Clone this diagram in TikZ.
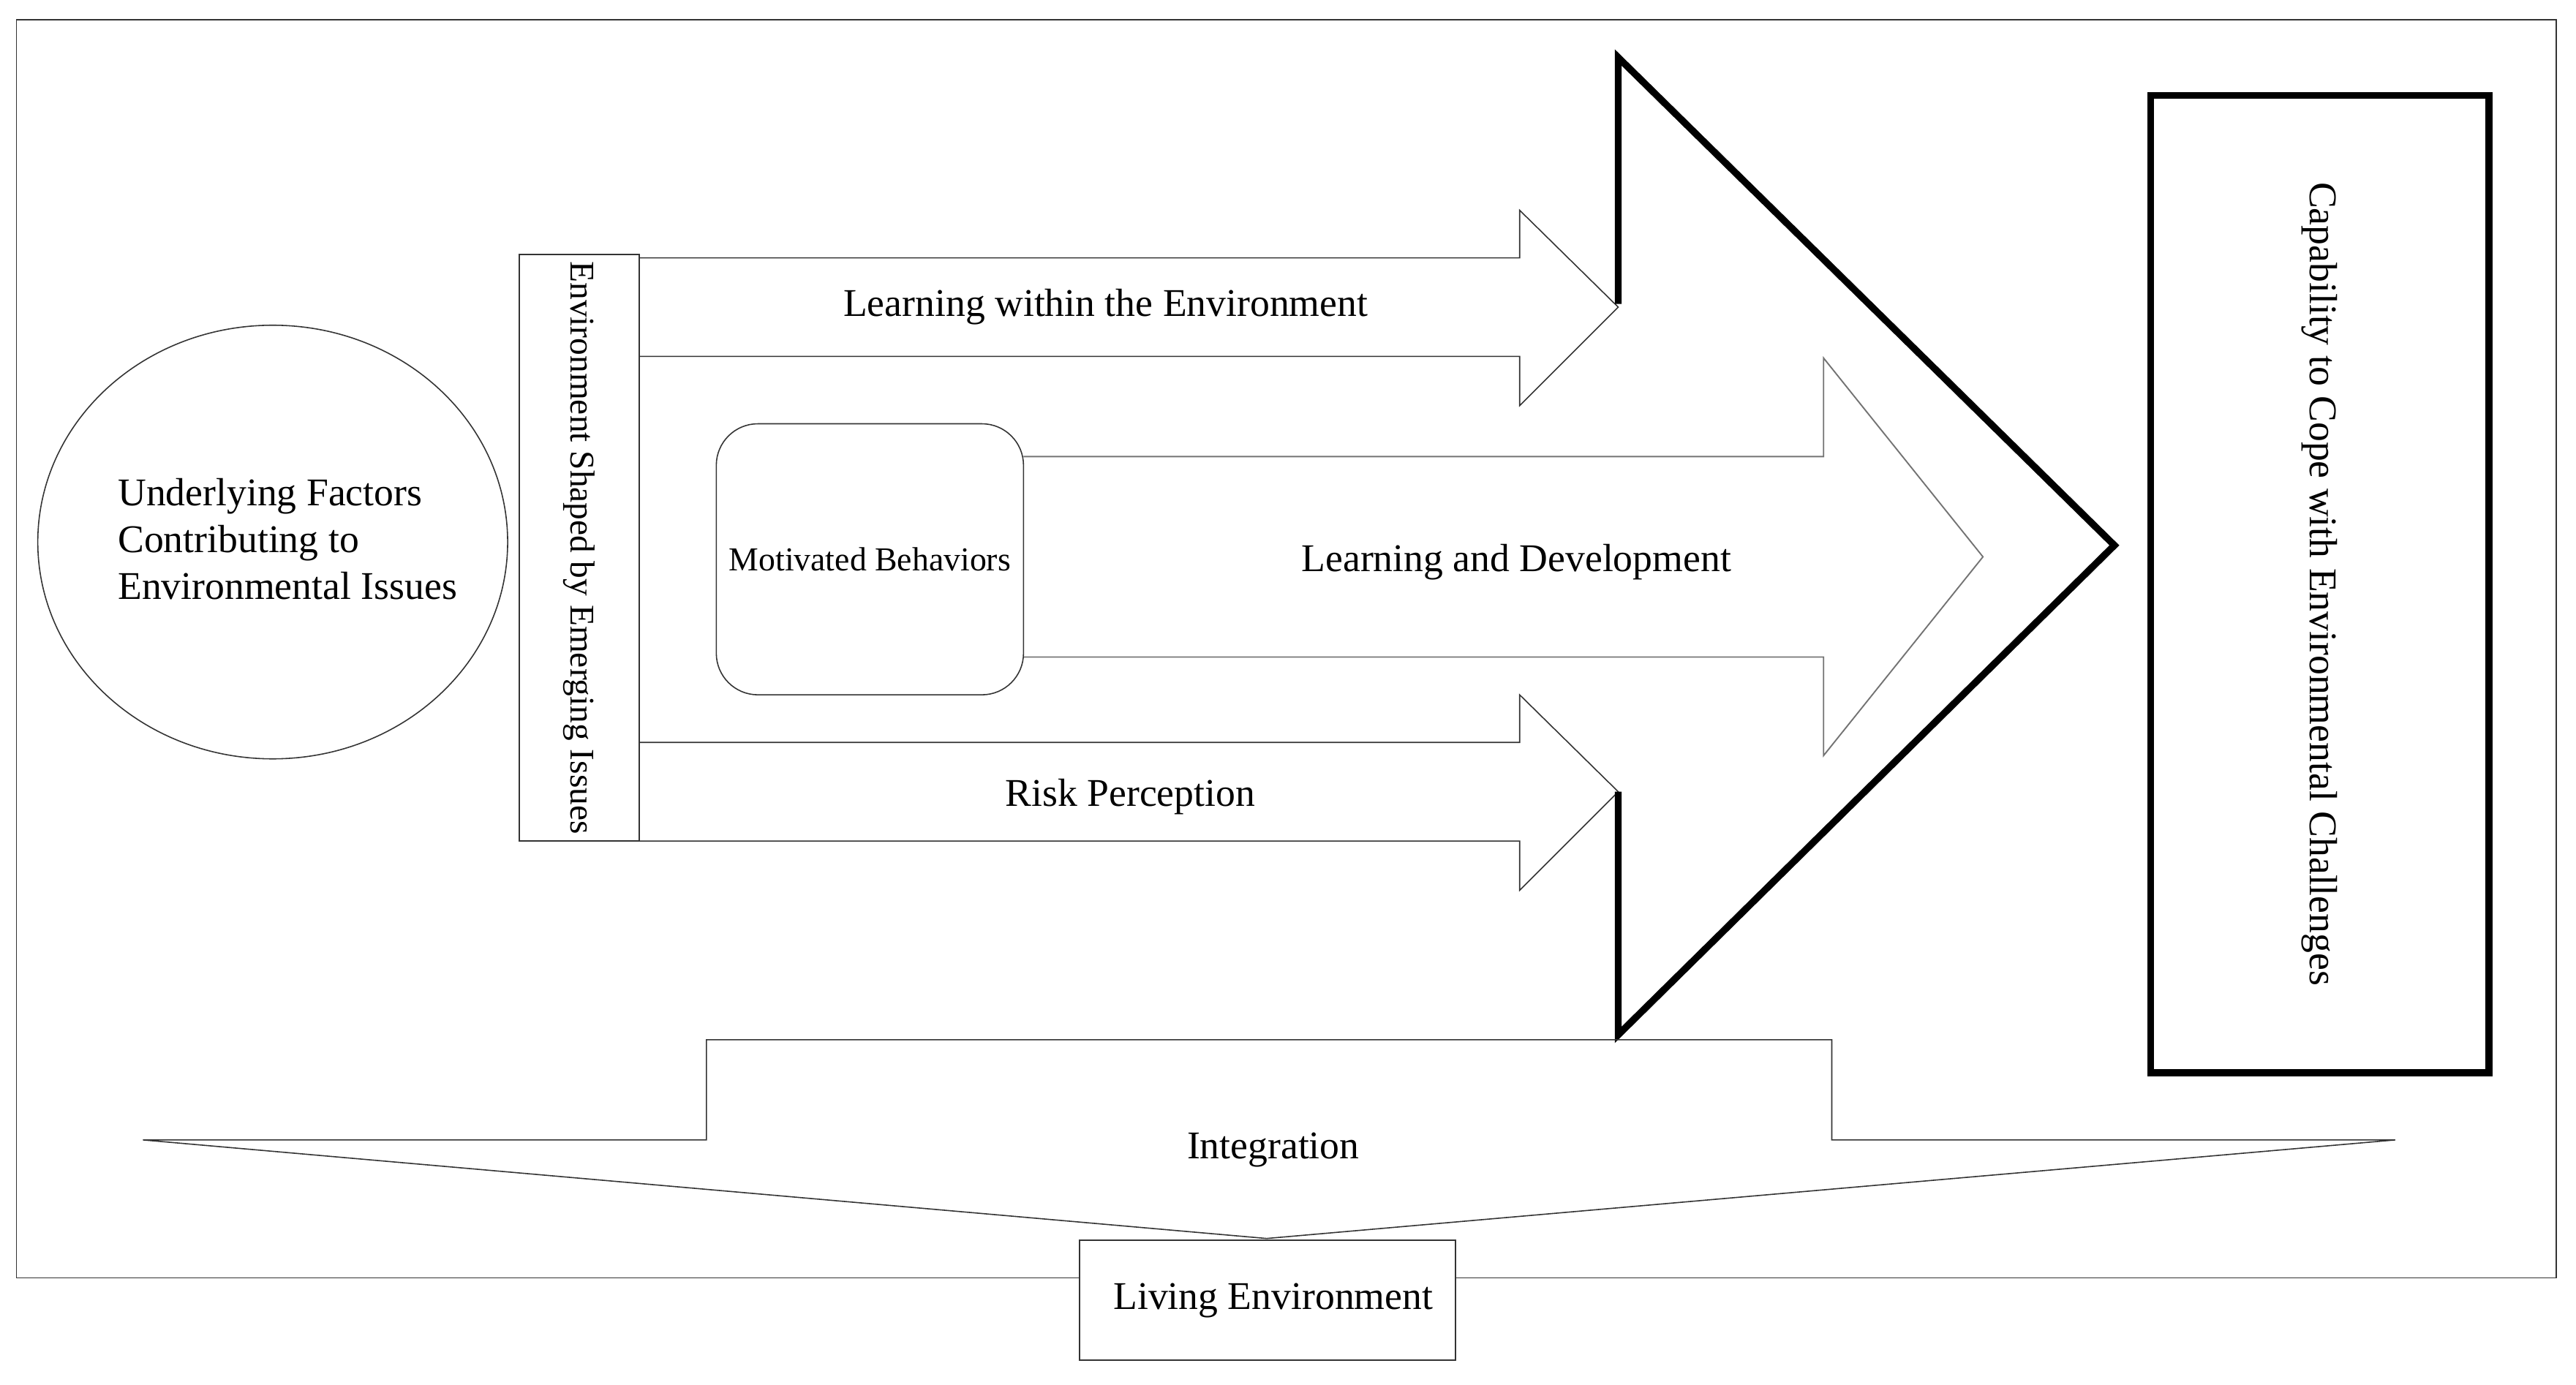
\documentclass[tikz,border=0pt]{standalone}
\usepackage{fontspec}
\setmainfont{Liberation Serif}
\begin{document}
\begin{tikzpicture}[x=0.25mm,y=-0.25mm,
  ln/.style={draw=black!80,line width=0.5pt},
  txt/.style={font=\fontsize{17}{20}\selectfont},
  bold/.style={draw=black,line width=3pt}]
\useasboundingbox (0,0) rectangle (1568,843);
\draw[ln] (10,12) rectangle (1556,778);
\draw[ln] (166,330) ellipse [x radius=143, y radius=132];
\node[align=left,font=\fontsize{17}{20.3}\selectfont] (ct) at (175,328) {Underlying Factors\\Contributing to\\Environmental Issues};
\node[ln,minimum width=73*0.25mm,minimum height=357*0.25mm,inner sep=0] (v) at (352.5,333.5) {};
\node[rotate=-90,font=\fontsize{15}{18}\selectfont] at (v) {Environment Shaped by Emerging Issues};
\draw[ln] (389,157)--(925,157)--(925,128)--(985,187)--(925,247)--(925,217)--(389,217);
\node[txt] (t1) at (673,187) {Learning within the Environment};
\draw[ln] (389,452)--(925,452)--(925,423)--(985,482)--(925,542)--(925,512)--(389,512);
\node[txt] (t2) at (688,485) {Risk Perception};
\draw[draw=black!55,line width=0.6pt] (623,278)--(1110,278)--(1110,218)--(1207,339)--(1110,460)--(1110,400)--(623,400);
\node[txt] (t3) at (923,342) {Learning and Development};
\node[ln,rounded corners=18,minimum width=187*0.25mm,minimum height=165*0.25mm] (m) at (529.5,340.5) {};
\node[font=\fontsize{14.5}{18}\selectfont] at (m) {Motivated Behaviors};
\draw[bold,line join=miter] (985,185)--(985,35)--(1287,332)--(985,630)--(985,482);
\node[bold,minimum width=206*0.25mm,minimum height=595*0.25mm] (r) at (1412,355.5) {};
\node[rotate=-90,txt] at (r) {Capability to Cope with Environmental Challenges};
\draw[ln] (87,694)--(430,694)--(430,633)--(1115,633)--(1115,694)--(1458,694)--(771,754)--cycle;
\node[txt] (ig) at (775,700) {Integration};
\node[ln,fill=white,minimum width=229*0.25mm,minimum height=73*0.25mm] (le) at (771.5,791.5) {};
\node[txt] at (775,792) {Living Environment};
\end{tikzpicture}
\end{document}
